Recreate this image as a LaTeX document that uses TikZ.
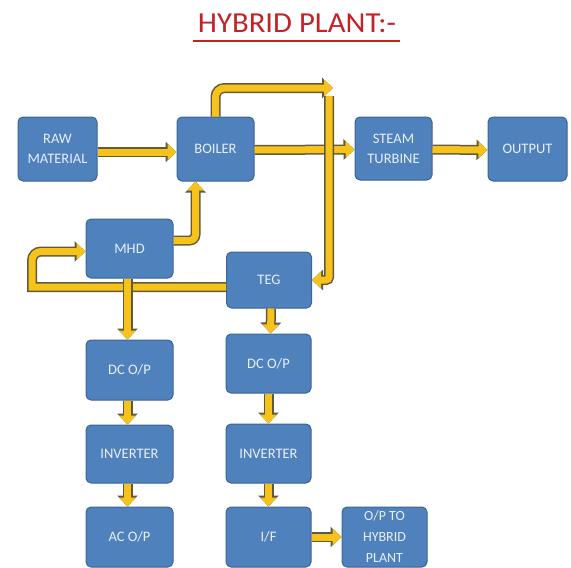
\documentclass[tikz,border=0pt]{standalone}
\usepackage{fontspec}
\setmainfont{Carlito}
\usetikzlibrary{arrows.meta}
\definecolor{boxblue}{HTML}{4F81BD}
\definecolor{boxedge}{HTML}{3A6496}
\definecolor{pipefill}{HTML}{F7C21A}
\definecolor{pipeedge}{HTML}{5F5A3E}
\definecolor{titlered}{HTML}{C32229}
\definecolor{boxtext}{HTML}{E8EEF6}
\tikzset{
  blk/.style={rectangle, rounded corners=5pt, fill=boxblue, draw=boxedge, line width=1pt,
    text=boxtext, align=center, inner sep=1pt,
    font=\fontsize{14.5}{20}\selectfont},
  pipe/.style={draw=pipefill, line width=7pt, -{Triangle[length=9pt,width=16pt]},
    preaction={draw=pipeedge, line width=10pt, -{Triangle[length=11pt,width=20pt]}}}
}
\begin{document}
\begin{tikzpicture}[x=1pt,y=-1pt]
\useasboundingbox (0,0) rectangle (571,568);
% title
\node[font=\fontsize{29}{30}\selectfont, text=titlered, anchor=base, xscale=1.06] (title) at (297,32) {HYBRID PLANT:-};
\draw[titlered, line width=2.5pt] (193,41) -- (400,41);
% boxes
\node[blk, minimum width=79pt, minimum height=64pt] (raw) at (57.5,149) {RAW\\MATERIAL};
\node[blk, minimum width=77pt, minimum height=64pt] (boiler) at (215.5,149) {BOILER};
\node[blk, minimum width=77pt, minimum height=63pt] (steam) at (393.5,148.5) {STEAM\\TURBINE};
\node[blk, minimum width=79pt, minimum height=64pt] (output) at (527.5,149) {OUTPUT};
\node[blk, minimum width=87pt, minimum height=59pt] (mhd) at (129.5,248.5) {MHD};
\node[blk, minimum width=85pt, minimum height=56pt] (teg) at (269,280) {TEG};
\node[blk, minimum width=87pt, minimum height=60pt] (dc1) at (129.5,370) {DC O/P};
\node[blk, minimum width=87pt, minimum height=58pt] (inv1) at (129.5,454) {INVERTER};
\node[blk, minimum width=87pt, minimum height=60pt] (ac) at (129.5,537) {AC O/P};
\node[blk, minimum width=85pt, minimum height=59pt] (dc2) at (268.5,363.5) {DC O/P};
\node[blk, minimum width=85pt, minimum height=59pt] (inv2) at (268.5,453.5) {INVERTER};
\node[blk, minimum width=85pt, minimum height=60pt] (if) at (268.5,537) {I/F};
\node[blk, minimum width=85pt, minimum height=60pt, font=\fontsize{14}{21}\selectfont] (hyb) at (384.5,537) {O/P TO\\HYBRID\\PLANT};
% coordinates
\coordinate (toptip) at (333,88);
\coordinate (vtop) at (329,96);
\coordinate (tegw) at ([yshift=-7pt]teg.west);
\coordinate (loopx) at (32,287);
\coordinate (mhdw) at ([yshift=-3pt]mhd.west);
\coordinate (mhde) at ([yshift=8pt]mhd.east);
\coordinate (boils) at ([xshift=-20pt]boiler.south);
% horizontal pipes first
\draw[pipe] ([yshift=-3pt]raw.east) -- ([yshift=-3pt]boiler.west);
\draw[pipe] ([yshift=-1pt]boiler.east) -- ([yshift=-1pt]steam.west);
\draw[pipe] ([yshift=-1pt]steam.east) -- ([yshift=-1pt]output.west);
\draw[pipe] (tegw) -- (loopx) [rounded corners=9pt] -- (loopx |- mhdw) -- (mhdw);
\draw[pipe, rounded corners=9pt] (boiler.north) -- (boiler.north |- toptip) -- (toptip);
\draw[pipe, rounded corners=6pt] (mhde) -- (boils |- mhde) -- (boils);
% vertical pipes
\draw[pipe, rounded corners=3pt] (vtop) -- (vtop |- teg.east) -- (teg.east);
\draw[pipe] ([xshift=-2pt]mhd.south) -- ([xshift=-2pt]dc1.north);
\draw[pipe] ([xshift=2pt]teg.south) -- ([xshift=2pt]dc2.north);
\draw[pipe] ([xshift=-2pt]dc1.south) -- ([xshift=-2pt]inv1.north);
\draw[pipe] ([xshift=-2pt]inv1.south) -- ([xshift=-2pt]ac.north);
\draw[pipe] (dc2.south) -- (inv2.north);
\draw[pipe] (inv2.south) -- (if.north);
\draw[pipe] (if.east) -- (hyb.west);
\end{tikzpicture}
\end{document}
